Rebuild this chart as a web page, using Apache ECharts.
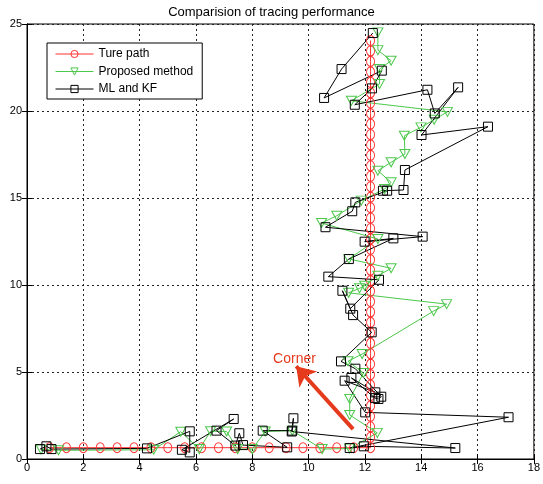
<!DOCTYPE html>
<html><head><meta charset="utf-8">
<script src="https://cdn.jsdelivr.net/npm/echarts/dist/echarts.min.js"></script>
<style>html,body{margin:0;padding:0;background:#fff}#c{width:543px;height:484px}</style>
</head><body><div id="c"></div>
<script>
// ---- data ----
const titleText = 'Comparision of tracing performance';
const seriesNames = ['Ture path', 'Proposed method', 'ML and KF'];
const xTicks = [0, 2, 4, 6, 8, 10, 12, 14, 16, 18];
const yTicks = [0, 5, 10, 15, 20, 25];

const trueX = [0.8, 1.4, 2.0, 2.6, 3.2, 3.8, 4.4, 5.0, 5.6, 6.2, 6.8, 7.4, 8.0, 8.6, 9.2, 9.8, 10.4, 11.0, 11.6, 12.2,
  12.2, 12.2, 12.2, 12.2, 12.2, 12.2, 12.2, 12.2, 12.2, 12.2, 12.2, 12.2, 12.2, 12.2, 12.2, 12.2, 12.2, 12.2, 12.2, 12.2,
  12.2, 12.2, 12.2, 12.2, 12.2, 12.2, 12.2, 12.2, 12.2, 12.2, 12.2, 12.2, 12.2, 12.2, 12.2, 12.2, 12.2, 12.2, 12.2];
const trueY = [0.65, 0.65, 0.65, 0.65, 0.65, 0.65, 0.65, 0.65, 0.65, 0.65, 0.65, 0.65, 0.65, 0.65, 0.65, 0.65, 0.65, 0.65, 0.65, 0.65,
  1.25, 1.85, 2.45, 3.05, 3.65, 4.25, 4.85, 5.45, 6.05, 6.65, 7.25, 7.85, 8.45, 9.05, 9.65, 10.25, 10.85, 11.45, 12.05, 12.65,
  13.25, 13.85, 14.45, 15.05, 15.65, 16.25, 16.85, 17.45, 18.05, 18.65, 19.25, 19.85, 20.45, 21.05, 21.65, 22.25, 22.85, 23.45, 24.05];

const propX = [0.5, 1.12, 4.5, 5.46, 6.12, 6.52, 7.09, 7.48, 8.0, 8.46, 9.42, 10.48, 11.46, 12.44, 11.46, 11.46, 11.95, 11.4, 11.9,
  14.44, 14.9, 11.42, 11.81, 11.99, 12.46, 12.93, 11.43, 12.46, 10.46, 11.0, 11.87, 12.7, 12.93, 12.46, 12.93, 13.42, 13.4,
  13.99, 14.46, 14.93, 11.52, 12.52, 12.52, 12.93, 12.46, 12.46];
const propY = [0.55, 0.5, 0.53, 1.57, 0.57, 1.6, 1.58, 0.57, 0.57, 1.58, 1.63, 0.57, 0.6, 1.5, 2.53, 3.45, 4.94, 5.62, 6.03,
  8.5, 8.9, 9.55, 9.81, 9.96, 10.53, 10.96, 11.5, 12.64, 13.56, 13.98, 14.85, 15.52, 15.9, 16.57, 17.05, 17.53, 18.58,
  19.06, 19.5, 19.95, 20.59, 21.55, 22.41, 22.89, 23.5, 24.52];

const mlX = [0.46, 0.69, 0.87, 4.26, 5.78, 5.78, 5.5, 7.34, 6.73, 7.40, 7.54, 7.67, 9.24, 8.37, 9.42, 9.46, 9.40, 15.21,
  11.96, 11.46, 17.1, 12.01, 11.28, 12.37, 11.52, 12.36, 12.48, 12.58, 11.66, 11.15, 12.24, 11.58, 11.2, 11.48, 12.5,
  10.7, 11.43, 13.01, 11.99, 14.05, 10.6, 11.55, 11.66, 12.79, 12.64, 13.37, 13.42, 16.37, 14.01, 15.31, 14.48, 14.22,
  11.64, 12.25, 12.6, 10.55, 11.17, 12.28];
const mlY = [0.57, 0.73, 0.57, 0.61, 1.59, 0.38, 0.53, 2.30, 1.63, 0.77, 1.48, 0.80, 0.67, 1.63, 1.63, 2.34, 1.58, 0.63,
  0.73, 0.63, 2.40, 2.68, 4.50, 3.83, 4.66, 3.50, 3.45, 3.58, 5.19, 5.61, 7.28, 8.27, 9.67, 8.64, 10.3,
  10.48, 11.49, 12.68, 12.49, 12.78, 13.32, 14.24, 14.75, 15.42, 15.42, 15.46, 16.61, 19.1, 18.62, 21.36, 19.86, 21.22,
  20.36, 21.3, 22.32, 20.75, 22.41, 24.48];

const cornerLabel = 'Corner';
const arrowFrom = [11.58, 1.72];
const arrowTo = [9.56, 5.33];
const labelAt = [9.5, 5.72];

// ---- chart ----
const zip = (xs, ys) => xs.map((x, i) => [x, ys[i]]);
const FONT = '"Liberation Sans", Arial, Helvetica, sans-serif';
const RED = '#ff3030', GREEN = '#4cc84c', BLACK = '#000000', ANNOT = '#e63a1c';

const axisCommon = {
  type: 'value',
  axisLine: { show: true, lineStyle: { color: '#000', width: 1 } },
  axisTick: { show: true, inside: true, length: 5, lineStyle: { color: '#000' } },
  axisLabel: { color: '#000', fontSize: 11, fontFamily: FONT },
};
const gridLine = { show: true, lineStyle: { color: '#222', width: 1, type: [2, 3] } };

const chart = echarts.init(document.getElementById('c'), null, { renderer: 'canvas' });
chart.setOption({
  animation: false,
  backgroundColor: '#fff',
  title: {
    text: titleText, left: 'center', top: 1,
    textStyle: { fontSize: 13, fontWeight: 'normal', color: '#000', fontFamily: FONT }
  },
  grid: { left: 27, right: 6, top: 24, bottom: 25, show: true, borderColor: '#000', borderWidth: 1, containLabel: false },
  legend: {
    orient: 'vertical', left: 47, top: 43,
    data: seriesNames,
    padding: [5, 9, 4, 8], itemGap: 5.5, itemWidth: 38, itemHeight: 9,
    backgroundColor: '#fff', borderColor: '#000', borderWidth: 1, borderRadius: 0,
    lineStyle: { width: 1 },
    itemStyle: { borderWidth: 1 },
    textStyle: { fontSize: 12, color: '#000', fontFamily: FONT },
    selectedMode: false
  },
  xAxis: [
    Object.assign({}, axisCommon, {
      min: xTicks[0], max: xTicks[xTicks.length - 1], interval: xTicks[1] - xTicks[0],
      position: 'bottom', splitLine: gridLine,
      axisLabel: Object.assign({}, axisCommon.axisLabel, { margin: 3 })
    }),
    Object.assign({}, axisCommon, {
      min: xTicks[0], max: xTicks[xTicks.length - 1], interval: xTicks[1] - xTicks[0],
      position: 'top', splitLine: { show: false }, axisLabel: { show: false }
    })
  ],
  yAxis: [
    Object.assign({}, axisCommon, {
      min: yTicks[0], max: yTicks[yTicks.length - 1], interval: yTicks[1] - yTicks[0],
      position: 'left', splitLine: gridLine,
      axisLabel: Object.assign({}, axisCommon.axisLabel, { margin: 5 })
    }),
    Object.assign({}, axisCommon, {
      min: yTicks[0], max: yTicks[yTicks.length - 1], interval: yTicks[1] - yTicks[0],
      position: 'right', splitLine: { show: false }, axisLabel: { show: false }
    })
  ],
  series: [
    {
      name: seriesNames[0], type: 'line', data: zip(trueX, trueY),
      symbol: 'circle', symbolSize: [8, 10], showSymbol: true, showAllSymbol: true,
      lineStyle: { color: RED, width: 1 },
      itemStyle: { color: 'rgba(255,255,255,0)', borderColor: RED, borderWidth: 1 },
      emphasis: { disabled: true }, silent: true
    },
    {
      name: seriesNames[1], type: 'line', data: zip(propX, propY),
      symbol: 'triangle', symbolRotate: 180, symbolSize: [10, 9], showSymbol: true, showAllSymbol: true,
      lineStyle: { color: GREEN, width: 1 },
      itemStyle: { color: 'rgba(255,255,255,0)', borderColor: GREEN, borderWidth: 1 },
      emphasis: { disabled: true }, silent: true
    },
    {
      name: seriesNames[2], type: 'line', data: zip(mlX, mlY),
      symbol: 'rect', symbolSize: 9, showSymbol: true, showAllSymbol: true,
      lineStyle: { color: BLACK, width: 1 },
      itemStyle: { color: 'rgba(255,255,255,0)', borderColor: BLACK, borderWidth: 1 },
      emphasis: { disabled: true }, silent: true
    },
    {
      name: 'annotation', type: 'line', data: [], silent: true,
      markLine: {
        silent: true, animation: false,
        symbol: ['none', 'arrow'], symbolSize: 18,
        lineStyle: { color: ANNOT, width: 4, type: 'solid' },
        label: { show: false },
        data: [[{ coord: arrowFrom }, { coord: arrowTo }]]
      },
      markPoint: {
        silent: true, animation: false,
        symbol: 'circle', symbolSize: 1,
        itemStyle: { color: 'rgba(0,0,0,0)' },
        label: { show: true, position: 'inside', formatter: cornerLabel, color: ANNOT, fontSize: 14, fontFamily: FONT },
        data: [{ coord: labelAt }]
      }
    }
  ]
});
</script>
</body></html>
